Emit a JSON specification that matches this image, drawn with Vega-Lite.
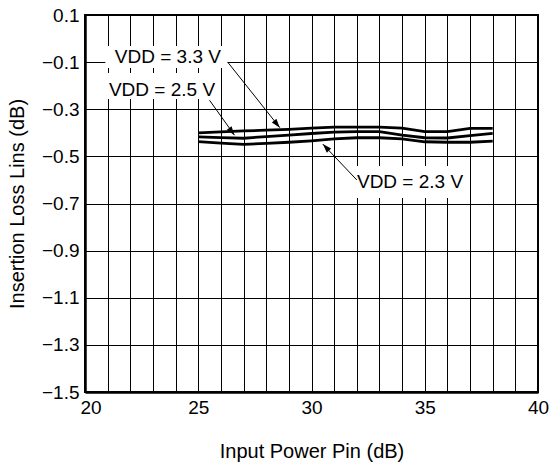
{
  "$schema": "https://vega.github.io/schema/vega-lite/v6.json",
  "width": 453,
  "height": 377,
  "autosize": {"type": "none"},
  "padding": {"left": 85, "top": 15, "right": 12, "bottom": 72},
  "background": "white",
  "config": {
    "font": "Liberation Sans",
    "view": {"stroke": "black", "strokeWidth": 2},
    "axis": {
      "grid": true,
      "gridColor": "black",
      "gridOpacity": 1,
      "gridWidth": 1,
      "domainColor": "black",
      "domainWidth": 2.5,
      "ticks": false,
      "labelColor": "black",
      "labelFont": "Liberation Sans",
      "labelFontSize": 19,
      "titleColor": "black",
      "titleFont": "Liberation Sans",
      "titleFontSize": 20,
      "titleFontWeight": "normal"
    }
  },
  "datasets": {
    "curves": [
      {"series": "3.3 V", "pin": 25, "loss": -0.400},
      {"series": "3.3 V", "pin": 26, "loss": -0.396},
      {"series": "3.3 V", "pin": 27, "loss": -0.392},
      {"series": "3.3 V", "pin": 28, "loss": -0.389},
      {"series": "3.3 V", "pin": 29, "loss": -0.385},
      {"series": "3.3 V", "pin": 30, "loss": -0.380},
      {"series": "3.3 V", "pin": 31, "loss": -0.376},
      {"series": "3.3 V", "pin": 32, "loss": -0.376},
      {"series": "3.3 V", "pin": 33, "loss": -0.376},
      {"series": "3.3 V", "pin": 34, "loss": -0.380},
      {"series": "3.3 V", "pin": 35, "loss": -0.395},
      {"series": "3.3 V", "pin": 36, "loss": -0.395},
      {"series": "3.3 V", "pin": 37, "loss": -0.381},
      {"series": "3.3 V", "pin": 38, "loss": -0.381},
      {"series": "2.5 V", "pin": 25, "loss": -0.417},
      {"series": "2.5 V", "pin": 26, "loss": -0.420},
      {"series": "2.5 V", "pin": 27, "loss": -0.423},
      {"series": "2.5 V", "pin": 28, "loss": -0.416},
      {"series": "2.5 V", "pin": 29, "loss": -0.410},
      {"series": "2.5 V", "pin": 30, "loss": -0.403},
      {"series": "2.5 V", "pin": 31, "loss": -0.397},
      {"series": "2.5 V", "pin": 32, "loss": -0.395},
      {"series": "2.5 V", "pin": 33, "loss": -0.395},
      {"series": "2.5 V", "pin": 34, "loss": -0.410},
      {"series": "2.5 V", "pin": 35, "loss": -0.421},
      {"series": "2.5 V", "pin": 36, "loss": -0.422},
      {"series": "2.5 V", "pin": 37, "loss": -0.412},
      {"series": "2.5 V", "pin": 38, "loss": -0.402},
      {"series": "2.3 V", "pin": 25, "loss": -0.437},
      {"series": "2.3 V", "pin": 26, "loss": -0.444},
      {"series": "2.3 V", "pin": 27, "loss": -0.449},
      {"series": "2.3 V", "pin": 28, "loss": -0.445},
      {"series": "2.3 V", "pin": 29, "loss": -0.440},
      {"series": "2.3 V", "pin": 30, "loss": -0.434},
      {"series": "2.3 V", "pin": 31, "loss": -0.426},
      {"series": "2.3 V", "pin": 32, "loss": -0.421},
      {"series": "2.3 V", "pin": 33, "loss": -0.421},
      {"series": "2.3 V", "pin": 34, "loss": -0.426},
      {"series": "2.3 V", "pin": 35, "loss": -0.438},
      {"series": "2.3 V", "pin": 36, "loss": -0.440},
      {"series": "2.3 V", "pin": 37, "loss": -0.440},
      {"series": "2.3 V", "pin": 38, "loss": -0.435}
    ],
    "notes": [
      {"label": "VDD = 3.3 V", "tx": 23.66, "ty": -0.078, "bx1": 20.9, "bx2": 26.3, "by1": -0.032, "by2": -0.125, "ax": 26.3, "ay": -0.10, "hx": 28.6, "hy": -0.378, "dir": 140.9},
      {"label": "VDD = 2.5 V", "tx": 23.4, "ty": -0.218, "bx1": 20.8, "bx2": 25.87, "by1": -0.146, "by2": -0.257, "ax": 25.5, "ay": -0.262, "hx": 26.6, "hy": -0.41, "dir": 143.7},
      {"label": "VDD = 2.3 V", "tx": 34.35, "ty": -0.609, "bx1": 31.88, "bx2": 36.9, "by1": -0.541, "by2": -0.677, "ax": 32.0, "ay": -0.60, "hx": 30.5, "hy": -0.448, "dir": 316.6}
    ]
  },
  "layer": [
    {
      "data": {"name": "curves"},
      "mark": {"type": "line", "color": "black", "strokeWidth": 2.8, "strokeJoin": "miter"},
      "encoding": {
        "x": {
          "field": "pin", "type": "quantitative",
          "scale": {"domain": [20, 40], "nice": false, "zero": false},
          "axis": {
            "title": "Input Power Pin (dB)",
            "values": [20,21,22,23,24,25,26,27,28,29,30,31,32,33,34,35,36,37,38,39,40],
            "labelExpr": "datum.value % 5 === 0 ? datum.label : ''",
            "labelAlign": {"expr": "datum.value === 20 ? 'left' : 'center'"},
            "labelOffset": {"expr": "datum.value === 20 ? -5 : 0"},
            "labelPadding": 6,
            "titlePadding": 24
          }
        },
        "y": {
          "field": "loss", "type": "quantitative",
          "scale": {"domain": [-1.5, 0.1], "nice": false, "zero": false},
          "axis": {
            "title": "Insertion Loss Lins (dB)",
            "values": [-1.5, -1.3, -1.1, -0.9, -0.7, -0.5, -0.3, -0.1, 0.1],
            "format": ".1f",
            "labelPadding": 6,
            "titlePadding": 14
          }
        },
        "detail": {"field": "series", "type": "nominal"}
      }
    },
    {
      "data": {"name": "notes"},
      "mark": {"type": "rect", "fill": "white", "stroke": null},
      "encoding": {
        "x": {"field": "bx1", "type": "quantitative", "axis": {
            "title": "Input Power Pin (dB)",
            "values": [20,21,22,23,24,25,26,27,28,29,30,31,32,33,34,35,36,37,38,39,40],
            "labelExpr": "datum.value % 5 === 0 ? datum.label : ''",
            "labelAlign": {"expr": "datum.value === 20 ? 'left' : 'center'"},
            "labelOffset": {"expr": "datum.value === 20 ? -5 : 0"},
            "labelPadding": 6,
            "titlePadding": 24
          }},
        "x2": {"field": "bx2"},
        "y": {"field": "by1", "type": "quantitative", "axis": {
            "title": "Insertion Loss Lins (dB)",
            "values": [-1.5, -1.3, -1.1, -0.9, -0.7, -0.5, -0.3, -0.1, 0.1],
            "format": ".1f",
            "labelPadding": 6,
            "titlePadding": 14
          }},
        "y2": {"field": "by2"}
      }
    },
    {
      "data": {"name": "notes"},
      "mark": {"type": "rule", "color": "black", "strokeWidth": 1},
      "encoding": {
        "x": {"field": "ax", "type": "quantitative", "axis": {
            "title": "Input Power Pin (dB)",
            "values": [20,21,22,23,24,25,26,27,28,29,30,31,32,33,34,35,36,37,38,39,40],
            "labelExpr": "datum.value % 5 === 0 ? datum.label : ''",
            "labelAlign": {"expr": "datum.value === 20 ? 'left' : 'center'"},
            "labelOffset": {"expr": "datum.value === 20 ? -5 : 0"},
            "labelPadding": 6,
            "titlePadding": 24
          }},
        "x2": {"field": "hx"},
        "y": {"field": "ay", "type": "quantitative", "axis": {
            "title": "Insertion Loss Lins (dB)",
            "values": [-1.5, -1.3, -1.1, -0.9, -0.7, -0.5, -0.3, -0.1, 0.1],
            "format": ".1f",
            "labelPadding": 6,
            "titlePadding": 14
          }},
        "y2": {"field": "hy"}
      }
    },
    {
      "data": {"name": "notes"},
      "mark": {"type": "point", "shape": "M0,0L-0.33,1L0.33,1Z", "filled": true, "color": "black", "opacity": 1, "size": 320},
      "encoding": {
        "x": {"field": "hx", "type": "quantitative", "axis": {
            "title": "Input Power Pin (dB)",
            "values": [20,21,22,23,24,25,26,27,28,29,30,31,32,33,34,35,36,37,38,39,40],
            "labelExpr": "datum.value % 5 === 0 ? datum.label : ''",
            "labelAlign": {"expr": "datum.value === 20 ? 'left' : 'center'"},
            "labelOffset": {"expr": "datum.value === 20 ? -5 : 0"},
            "labelPadding": 6,
            "titlePadding": 24
          }},
        "y": {"field": "hy", "type": "quantitative", "axis": {
            "title": "Insertion Loss Lins (dB)",
            "values": [-1.5, -1.3, -1.1, -0.9, -0.7, -0.5, -0.3, -0.1, 0.1],
            "format": ".1f",
            "labelPadding": 6,
            "titlePadding": 14
          }},
        "angle": {"field": "dir", "type": "quantitative", "scale": null}
      }
    },
    {
      "data": {"name": "notes"},
      "mark": {"type": "text", "font": "Liberation Sans", "fontSize": 19, "color": "black", "align": "center", "baseline": "middle"},
      "encoding": {
        "x": {"field": "tx", "type": "quantitative", "axis": {
            "title": "Input Power Pin (dB)",
            "values": [20,21,22,23,24,25,26,27,28,29,30,31,32,33,34,35,36,37,38,39,40],
            "labelExpr": "datum.value % 5 === 0 ? datum.label : ''",
            "labelAlign": {"expr": "datum.value === 20 ? 'left' : 'center'"},
            "labelOffset": {"expr": "datum.value === 20 ? -5 : 0"},
            "labelPadding": 6,
            "titlePadding": 24
          }},
        "y": {"field": "ty", "type": "quantitative", "axis": {
            "title": "Insertion Loss Lins (dB)",
            "values": [-1.5, -1.3, -1.1, -0.9, -0.7, -0.5, -0.3, -0.1, 0.1],
            "format": ".1f",
            "labelPadding": 6,
            "titlePadding": 14
          }},
        "text": {"field": "label"}
      }
    }
  ]
}
